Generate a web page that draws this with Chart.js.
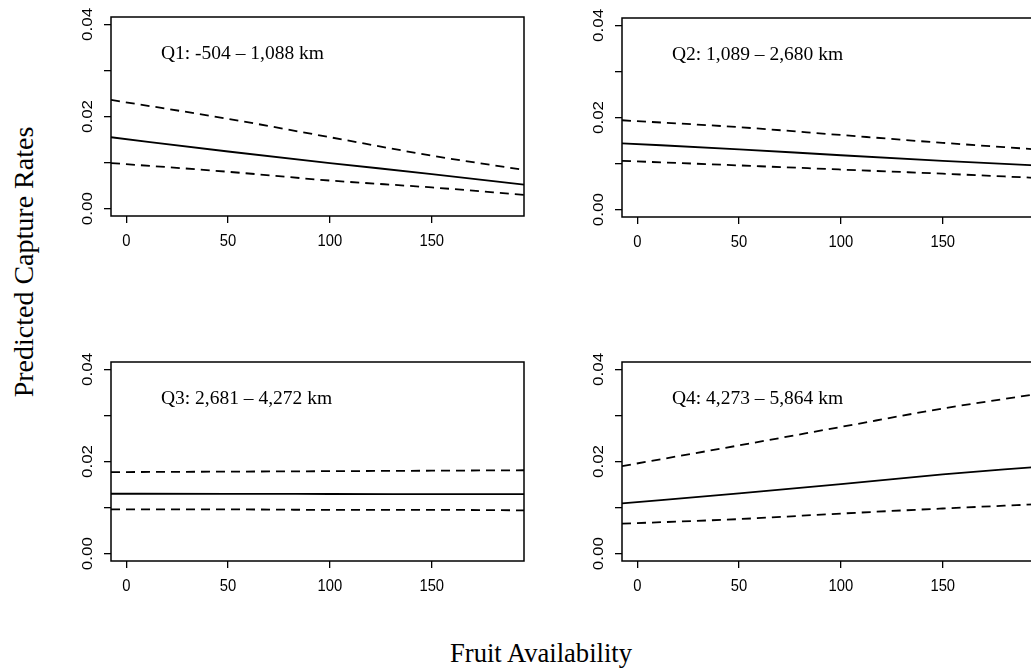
<!DOCTYPE html>
<html>
<head>
<meta charset="utf-8">
<script src="https://cdn.jsdelivr.net/npm/chart.js@4.4.0/dist/chart.umd.min.js"></script>
<style>
  body { margin: 0; background: #fff; overflow: hidden; }
  #wrap { position: relative; width: 1031px; height: 669px; overflow: hidden; background: #fff; }
  canvas { position: absolute; }
  .title { position: absolute; font-family: "Liberation Serif", serif; font-size: 28px; line-height: 28px; color: #000; white-space: nowrap; text-align: center; }
</style>
</head>
<body>
<div id="wrap">
  <canvas id="q1"></canvas>
  <canvas id="q2"></canvas>
  <canvas id="q3"></canvas>
  <canvas id="q4"></canvas>
  <div class="title" style="left:0; width:1082px; top:639px; transform:scaleX(0.95);">Fruit Availability</div>
  <div class="title" style="left:-136px; width:320px; top:248px; transform:rotate(-90deg);">Predicted Capture Rates</div>
</div>
<script>
  // fruit availability values where each curve was read
  var fruitX = [-7.5, 50, 100, 150, 195.3];

  var q1Fit   = [0.0155, 0.0124, 0.0099, 0.0075, 0.0052];
  var q1Upper = [0.0236, 0.0195, 0.0155, 0.0115, 0.0084];
  var q1Lower = [0.0099, 0.0080, 0.0061, 0.0046, 0.0030];

  var q2Fit   = [0.0144, 0.0131, 0.0118, 0.0106, 0.0096];
  var q2Upper = [0.0194, 0.0179, 0.0162, 0.0145, 0.0131];
  var q2Lower = [0.0106, 0.0096, 0.0087, 0.0078, 0.0069];

  var q3Fit   = [0.0130, 0.01298, 0.01295, 0.01292, 0.0129];
  var q3Upper = [0.0177, 0.0178, 0.0179, 0.0180, 0.0181];
  var q3Lower = [0.0096, 0.0096, 0.0095, 0.0095, 0.0094];

  var q4Fit   = [0.0109, 0.0131, 0.0151, 0.0172, 0.0188];
  var q4Upper = [0.0190, 0.0235, 0.0275, 0.0315, 0.0346];
  var q4Lower = [0.0065, 0.0075, 0.0087, 0.0098, 0.0107];

  var panelLabels = ["Q1: -504 \u2013 1,088 km", "Q2: 1,089 \u2013 2,680 km",
                     "Q3: 2,681 \u2013 4,272 km", "Q4: 4,273 \u2013 5,864 km"];

  var xTicks = [0, 50, 100, 150];
  var yTicks = [0, 0.01, 0.02, 0.03, 0.04];
  var yTickLabels = [0, 0.02, 0.04];

  // plot box of each panel on the page: left, top, right, bottom
  var boxes = [
    [111, 17, 524, 216],
    [622, 18, 1035, 217],
    [111, 362, 524, 561],
    [622, 362, 1035, 561]
  ];

  var padL = 70, padT = 12, padR = 10, axisH = 45;
  var squish = 0.87; // the source figure is a little narrower than tall

  function pts(ys) {
    return fruitX.map(function (x, i) { return { x: x, y: ys[i] }; });
  }

  var framePlugin = {
    id: "frame",
    afterDraw: function (chart) {
      var ctx = chart.ctx, a = chart.chartArea;
      var ys = chart.scales.y, xs = chart.scales.x;
      ctx.save();
      ctx.strokeStyle = "#000";
      ctx.lineWidth = 1.5;
      ctx.strokeRect(a.left, a.top, a.right - a.left, a.bottom - a.top);
      ctx.fillStyle = "#000";
      ctx.font = '17px "Liberation Sans", Arial, sans-serif';
      ctx.textAlign = "center";
      ctx.textBaseline = "alphabetic";
      // rotated y tick labels, like R's default
      yTickLabels.forEach(function (v) {
        ctx.save();
        ctx.translate(a.left - 19, ys.getPixelForValue(v));
        ctx.scale(squish, 1);
        ctx.rotate(-Math.PI / 2);
        ctx.fillText(v.toFixed(2), 0, 0);
        ctx.restore();
      });
      // x tick labels
      xTicks.forEach(function (v) {
        ctx.save();
        ctx.translate(xs.getPixelForValue(v), a.bottom + 29.5);
        ctx.scale(squish, 1);
        ctx.fillText(String(v), 0, 0);
        ctx.restore();
      });
      // panel label
      ctx.font = '19.5px "Liberation Serif", "Times New Roman", serif';
      ctx.textAlign = "left";
      ctx.textBaseline = "middle";
      ctx.fillText(chart.options.plugins.frame.label, xs.getPixelForValue(17), ys.getPixelForValue(0.0335));
      ctx.restore();
    }
  };

  function makePanel(id, idx, fit, upper, lower) {
    var b = boxes[idx];
    var canvas = document.getElementById(id);
    canvas.width = padL + (b[2] - b[0]) + padR;
    canvas.height = padT + (b[3] - b[1]) + axisH;
    canvas.style.left = (b[0] - padL) + "px";
    canvas.style.top = (b[1] - padT) + "px";

    var line = { borderColor: "#000", borderWidth: 1.8, pointRadius: 0, fill: false, cubicInterpolationMode: "monotone" };
    var dashed = Object.assign({}, line, { borderDash: [9, 6] });

    new Chart(canvas, {
      type: "line",
      data: {
        datasets: [
          Object.assign({ data: pts(upper) }, dashed),
          Object.assign({ data: pts(fit) }, line),
          Object.assign({ data: pts(lower) }, dashed)
        ]
      },
      options: {
        responsive: false,
        animation: false,
        layout: { padding: { left: 0, top: padT, right: padR, bottom: 0 } },
        plugins: { legend: { display: false }, tooltip: { enabled: false }, frame: { label: panelLabels[idx] } },
        scales: {
          x: {
            type: "linear",
            min: -7.5,
            max: 195.3,
            afterBuildTicks: function (s) { s.ticks = xTicks.map(function (v) { return { value: v }; }); },
            afterFit: function (s) { s.height = axisH; },
            grid: { drawOnChartArea: false, drawTicks: true, tickLength: 7, color: "#000", lineWidth: 1.3 },
            border: { display: false },
            ticks: { callback: function () { return ""; }, maxRotation: 0 }
          },
          y: {
            type: "linear",
            min: -0.0016,
            max: 0.0416,
            afterBuildTicks: function (s) { s.ticks = yTicks.map(function (v) { return { value: v }; }); },
            afterFit: function (s) { s.width = padL; },
            grid: { drawOnChartArea: false, drawTicks: true, tickLength: 7, color: "#000", lineWidth: 1.3 },
            border: { display: false },
            ticks: { callback: function () { return ""; } }
          }
        }
      },
      plugins: [framePlugin]
    });
  }

  makePanel("q1", 0, q1Fit, q1Upper, q1Lower);
  makePanel("q2", 1, q2Fit, q2Upper, q2Lower);
  makePanel("q3", 2, q3Fit, q3Upper, q3Lower);
  makePanel("q4", 3, q4Fit, q4Upper, q4Lower);
</script>
</body>
</html>
